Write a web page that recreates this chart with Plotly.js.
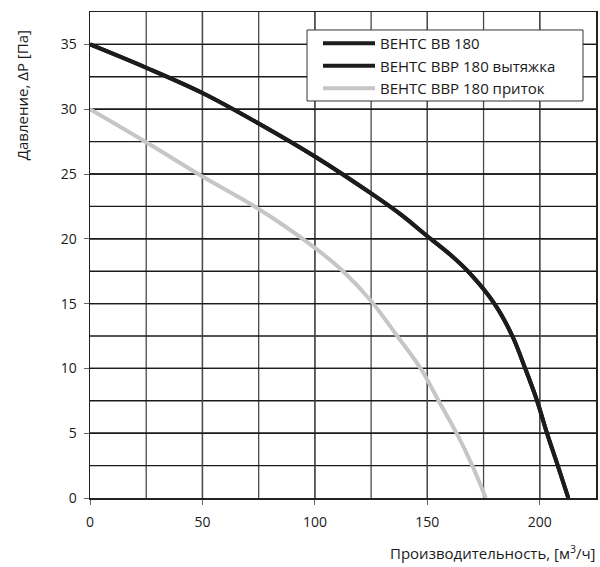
<!DOCTYPE html>
<html>
<head>
<meta charset="utf-8">
<script src="https://cdn.plot.ly/plotly-3.0.1.min.js"></script>
<style>
  html, body { margin: 0; padding: 0; background: #fff; }
  #chart { width: 600px; height: 567px; }
  /* мягкие линии сетки, как на оригинале */
  #chart .gridlayer path, #chart .minor-gridlayer path { shape-rendering: auto !important; }
</style>
</head>
<body>
<div id="chart"></div>
<script>
// Кривые вентиляторов (расход, м3/ч -> давление, Па)
const seriesNames = ['ВЕНТС ВВ 180', 'ВЕНТС ВВР 180 вытяжка', 'ВЕНТС ВВР 180 приток'];

const flowBB = [0, 25, 50, 75, 100, 125, 138, 150, 160, 168, 179.8, 187.8, 193.5, 198.8, 203.2, 208, 212.7];
const pressureBB = [35, 33.2, 31.25, 28.9, 26.35, 23.5, 21.9, 20.2, 18.8, 17.5, 15, 12.5, 10, 7.5, 5, 2.5, 0];

// вытяжка совпадает с ВВ 180
const flowExhaust = flowBB;
const pressureExhaust = pressureBB;

const flowSupply = [0, 25, 50, 75, 100, 112.5, 125, 136.6, 147, 155, 163, 170, 176];
const pressureSupply = [30, 27.45, 24.8, 22.3, 19.3, 17.5, 15.2, 12.5, 10, 7.5, 5, 2.5, 0];

const xTicks = [0, 50, 100, 150, 200];
const yTicks = [0, 5, 10, 15, 20, 25, 30, 35];

const FONT = 'Open Sans, Noto Sans, sans-serif';

function curve(name, x, y, color) {
    return {
        type: 'scatter',
        mode: 'lines',
        name: name,
        x: x,
        y: y,
        line: { color: color, width: 4, shape: 'spline', smoothing: 1 },
        hoverinfo: 'skip'
    };
}

const data = [
    curve(seriesNames[0], flowBB, pressureBB, '#1c1c1c'),
    curve(seriesNames[1], flowExhaust, pressureExhaust, '#1c1c1c'),
    curve(seriesNames[2], flowSupply, pressureSupply, '#c6c6c6')
];

const layout = {
    width: 600,
    height: 567,
    margin: { l: 90, r: 4, t: 12, b: 69 },
    paper_bgcolor: '#fff',
    plot_bgcolor: '#fff',
    font: { family: FONT, size: 14, color: '#1a1a1a' },
    showlegend: true,
    legend: {
        x: 0.4506, y: 0.969, xanchor: 'left', yanchor: 'top',
        bgcolor: 'rgba(0,0,0,0)', borderwidth: 0,
        font: { family: FONT, size: 15, color: '#1a1a1a' },
        itemwidth: 52,
        tracegroupgap: 0
    },
    // рамка легенды (шире текста, как в оригинале)
    shapes: [{
        type: 'rect', xref: 'paper', yref: 'paper', layer: 'above',
        x0: 0.4289, x1: 0.9743, y0: 0.8169, y1: 0.963,
        fillcolor: '#fff', line: { color: '#333', width: 1 }
    }],
    xaxis: {
        range: [0, 225],
        tickvals: xTicks,
        ticks: 'outside', ticklen: 5, tickcolor: '#666', tickwidth: 1,
        ticklabelstandoff: 6,
        showgrid: true, gridcolor: '#4a4a4a', gridwidth: 1.3,
        minor: { dtick: 25, tick0: 0, showgrid: true, gridcolor: '#4a4a4a', gridwidth: 1.3 },
        showline: true, linecolor: '#222', linewidth: 1.5, mirror: true,
        zeroline: false,
        fixedrange: true
    },
    yaxis: {
        range: [0, 37.5],
        tickvals: yTicks,
        ticks: 'outside', ticklen: 5, tickcolor: '#666', tickwidth: 1,
        ticklabelstandoff: 4,
        showgrid: true, gridcolor: '#1a1a1a', gridwidth: 1.4,
        minor: { dtick: 2.5, tick0: 0, showgrid: true, gridcolor: '#1a1a1a', gridwidth: 1.4 },
        showline: true, linecolor: '#222', linewidth: 1.5, mirror: true,
        zeroline: false,
        fixedrange: true
    },
    annotations: [
        {
            text: 'Давление, ΔP [Па]',
            xref: 'paper', yref: 'paper',
            x: -0.134, y: 0.967, xanchor: 'center', yanchor: 'top',
            textangle: -90, showarrow: false,
            font: { family: FONT, size: 15, color: '#1a1a1a' }
        },
        {
            text: 'Производительность, [м<sup>3</sup>/ч]',
            xref: 'paper', yref: 'paper',
            x: 1.002, y: -0.113, xanchor: 'right', yanchor: 'middle',
            showarrow: false,
            font: { family: FONT, size: 15, color: '#1a1a1a' }
        }
    ]
};

Plotly.newPlot('chart', data, layout, { displayModeBar: false, staticPlot: true });
</script>
</body>
</html>
